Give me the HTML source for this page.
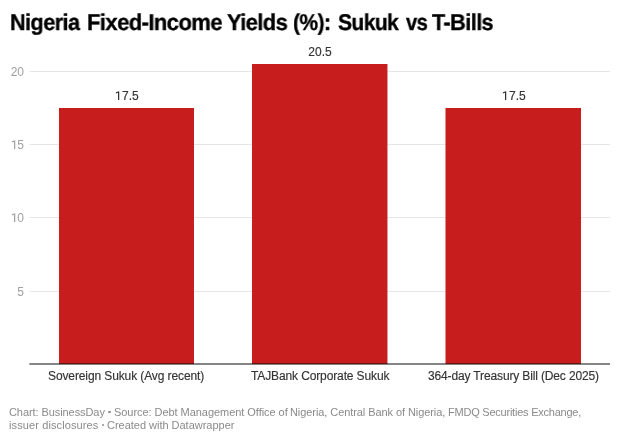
<!DOCTYPE html>
<html>
<head>
<meta charset="utf-8">
<style>
html,body{margin:0;padding:0;background:#fff;}
body{width:620px;height:442px;position:relative;overflow:hidden;font-family:"Liberation Sans",sans-serif;}
.tt,.ft,.xt,.yl,.vl{position:absolute;white-space:nowrap;line-height:1;will-change:transform;}
.tt{font-size:22.8px;font-weight:bold;color:#000;-webkit-text-stroke:0.35px #000;transform-origin:0 0;text-rendering:geometricPrecision;}
.ft{font-size:11px;color:#8a8a8a;}
.xt{font-size:12px;color:#333;-webkit-text-stroke:0.15px #333;}
.yl{width:24px;left:0;text-align:right;font-size:12px;color:#a0a0a0;}
.vl{width:120px;text-align:center;font-size:12px;color:#333;-webkit-text-stroke:0.15px #333;}
svg.bg{position:absolute;left:0;top:0;}
svg.one{display:inline-block;vertical-align:baseline;overflow:visible;}
.dot{position:absolute;width:2.9px;height:2.9px;border-radius:50%;background:#8e8e8e;}
</style>
</head>
<body>
<svg class="bg" width="620" height="442" viewBox="0 0 620 442">
<g fill="#e6e6e6">
<rect x="29.4" y="71" width="580.6" height="1"/>
<rect x="29.4" y="144" width="580.6" height="1"/>
<rect x="29.4" y="217" width="580.6" height="1"/>
<rect x="29.4" y="291" width="580.6" height="1"/>
</g>
<g fill="#c71e1d">
<rect x="59" y="108" width="135" height="256"/>
<rect x="252" y="64" width="135.45" height="300"/>
<rect x="445.5" y="108" width="135.5" height="256"/>
</g>
<rect x="29.4" y="363" width="580.6" height="2" fill="rgba(0,0,0,0.48)"/>
</svg>
<div class="tt" style="left:10.0px;top:11.0px;letter-spacing:-0.6px;transform:scaleX(0.9508)">Nigeria</div>
<div class="tt" style="left:87.34px;top:11.0px;letter-spacing:-0.6px;transform:scaleX(0.9656)">Fixed-Income</div>
<div class="tt" style="left:227.32px;top:11.0px;letter-spacing:-0.6px;transform:scaleX(0.9588)">Yields</div>
<div class="tt" style="left:293.32px;top:11.0px;letter-spacing:-0.6px;transform:scaleX(0.9182)">(%):</div>
<div class="tt" style="left:337.78px;top:11.0px;letter-spacing:-0.6px;transform:scaleX(0.9213)">Sukuk</div>
<div class="tt" style="left:405.68px;top:11.0px;letter-spacing:-0.6px;transform:scaleX(0.8841)">vs</div>
<div class="tt" style="left:431.66px;top:11.0px;letter-spacing:-0.6px;transform:scaleX(0.9508)">T-Bills</div>

<div class="yl" style="top:66px">20</div>
<div class="yl" style="top:139px"><svg class="one" width="6.67" height="10" viewBox="0 -10 6.67 10"><path d="M4.25 0V-8.75H3.95L0.9-7.65V-6.55L3.0-7.3V0Z" fill="currentColor"/></svg>5</div>
<div class="yl" style="top:212px"><svg class="one" width="6.67" height="10" viewBox="0 -10 6.67 10"><path d="M4.25 0V-8.75H3.95L0.9-7.65V-6.55L3.0-7.3V0Z" fill="currentColor"/></svg>0</div>
<div class="yl" style="top:286px">5</div>

<div class="vl" style="left:66.5px;top:90px"><svg class="one" width="6.67" height="10" viewBox="0 -10 6.67 10"><path d="M4.25 0V-8.75H3.95L0.9-7.65V-6.55L3.0-7.3V0Z" fill="currentColor"/></svg>7.5</div>
<div class="vl" style="left:260px;top:46px">20.5</div>
<div class="vl" style="left:453.5px;top:90px"><svg class="one" width="6.67" height="10" viewBox="0 -10 6.67 10"><path d="M4.25 0V-8.75H3.95L0.9-7.65V-6.55L3.0-7.3V0Z" fill="currentColor"/></svg>7.5</div>

<div class="xt" style="left:48.17px;top:370px;letter-spacing:-0.11px">Sovereign Sukuk (Avg recent)</div>
<div class="xt" style="left:250.96px;top:370px;letter-spacing:-0.123px">TAJBank Corporate Sukuk</div>
<div class="xt" style="left:427.54px;top:370px;letter-spacing:-0.141px">364-day Treasury Bill (Dec 2025)</div>

<div class="ft" style="left:9.28px;top:407px;letter-spacing:-0.077px">Chart: BusinessDay</div>
<div class="ft" style="left:113.58px;top:407px;letter-spacing:-0.049px">Source: Debt Management Office of</div>
<div class="ft" style="left:289.58px;top:407px;letter-spacing:-0.076px">Nigeria, Central Bank of Nigeria,</div>
<div class="ft" style="left:447.96px;top:407px;letter-spacing:-0.228px">FMDQ Securities Exchange,</div>
<div class="ft" style="left:9.28px;top:420px;letter-spacing:0.109px">issuer disclosures</div>
<div class="ft" style="left:106.68px;top:420px;letter-spacing:-0.017px">Created with Datawrapper</div>
<div class="dot" style="left:108.3px;top:410.5px"></div>
<div class="dot" style="left:101.6px;top:423.5px"></div>
</body>
</html>
